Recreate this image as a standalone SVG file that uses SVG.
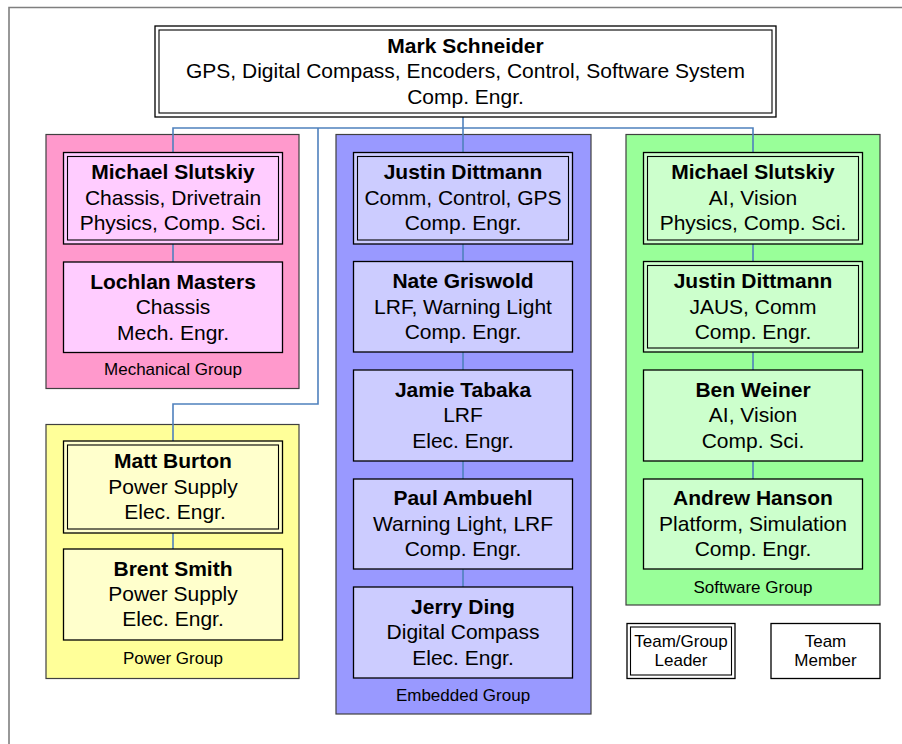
<svg xmlns="http://www.w3.org/2000/svg" width="902" height="744" viewBox="0 0 902 744">
  <style>
    text { font-family: "Liberation Sans", Arial, sans-serif; fill: #000; text-anchor: middle; }
    .name { font-size: 21px; font-weight: bold; }
    .line { font-size: 21px; }
    .glabel { font-size: 17px; }
    .legend { font-size: 17px; }
    .frame { fill: none; stroke: #7f7f7f; stroke-width: 1.6; }
    .group { stroke: #404040; stroke-width: 1.2; }
    .box { stroke: #000; stroke-width: 1.3; }
    .inner { fill: none; stroke: #000; stroke-width: 1.1; }
    .conn { fill: none; stroke: #4f81bd; stroke-width: 1.6; }
    .mech-g { fill: #ff99cc; } .mech-n { fill: #ffccff; }
    .emb-g { fill: #9999ff; } .emb-n { fill: #ccccff; }
    .soft-g { fill: #99ff99; } .soft-n { fill: #ccffcc; }
    .pow-g { fill: #ffff99; } .pow-n { fill: #ffffcc; }
    .plain { fill: #ffffff; }
  </style>

  <!-- page frame -->
  <path class="frame" d="M9,744 V7.5 H902"/>

  <!-- group backgrounds -->
  <g id="mechanical-group">
    <rect class="group mech-g" x="46" y="134.5" width="253" height="254"/>
    <text class="glabel" x="173" y="375">Mechanical Group</text>
  </g>
  <g id="embedded-group">
    <rect class="group emb-g" x="336" y="134.5" width="255" height="579.5"/>
    <text class="glabel" x="463" y="700.5">Embedded Group</text>
  </g>
  <g id="software-group">
    <rect class="group soft-g" x="626" y="134.5" width="254" height="470.5"/>
    <text class="glabel" x="753" y="592.5">Software Group</text>
  </g>
  <g id="power-group">
    <rect class="group pow-g" x="46" y="424.5" width="253" height="254"/>
    <text class="glabel" x="173" y="664">Power Group</text>
  </g>

  <!-- connectors -->
  <g id="connectors">
    <path class="conn" d="M463,117 V128"/>
    <path class="conn" d="M173,152 V128 H753 V152"/>
    <path class="conn" d="M463,128 V152"/>
    <path class="conn" d="M318,128 V404 H173 V441"/>
    <path class="conn" d="M173,244 V262"/>
    <path class="conn" d="M173,533 V549"/>
    <path class="conn" d="M463,244 V261"/>
    <path class="conn" d="M463,352 V370"/>
    <path class="conn" d="M463,461 V479"/>
    <path class="conn" d="M463,569 V587"/>
    <path class="conn" d="M753,244 V261"/>
    <path class="conn" d="M753,352 V370"/>
    <path class="conn" d="M753,461 V479"/>
  </g>

  <!-- top lead -->
  <g id="mark-schneider">
    <rect class="box plain" x="155" y="26" width="621" height="91"/>
    <rect class="inner" x="159" y="30" width="613" height="83"/>
    <text class="name" x="465.5" y="52.5">Mark Schneider</text>
    <text class="line" x="465.5" y="78">GPS, Digital Compass, Encoders, Control, Software System</text>
    <text class="line" x="465.5" y="103.5">Comp. Engr.</text>
  </g>

  <!-- mechanical -->
  <g id="mech-michael-slutskiy">
    <rect class="box mech-n" x="63.5" y="152.5" width="219" height="91.5"/>
    <rect class="inner" x="67.5" y="156.5" width="211" height="83.5"/>
    <text class="name" x="173" y="178.5">Michael Slutskiy</text>
    <text class="line" x="173" y="204.5">Chassis, Drivetrain</text>
    <text class="line" x="173" y="230">Physics, Comp. Sci.</text>
  </g>
  <g id="mech-lochlan-masters">
    <rect class="box mech-n" x="63.5" y="262" width="219" height="90.5"/>
    <text class="name" x="173" y="288.5">Lochlan Masters</text>
    <text class="line" x="173" y="314">Chassis</text>
    <text class="line" x="173" y="339.5">Mech. Engr.</text>
  </g>

  <!-- power -->
  <g id="power-matt-burton">
    <rect class="box pow-n" x="63.5" y="441" width="219" height="92"/>
    <rect class="inner" x="67.5" y="445" width="211" height="84"/>
    <text class="name" x="173" y="468">Matt Burton</text>
    <text class="line" x="173" y="493.5">Power Supply</text>
    <text class="line" x="175" y="518.5">Elec. Engr.</text>
  </g>
  <g id="power-brent-smith">
    <rect class="box pow-n" x="63.5" y="549" width="219" height="91"/>
    <text class="name" x="173" y="575.5">Brent Smith</text>
    <text class="line" x="173" y="600.5">Power Supply</text>
    <text class="line" x="173" y="625.5">Elec. Engr.</text>
  </g>

  <!-- embedded -->
  <g id="emb-justin-dittmann">
    <rect class="box emb-n" x="353.5" y="152.5" width="219" height="91.5"/>
    <rect class="inner" x="357.5" y="156.5" width="211" height="83.5"/>
    <text class="name" x="463" y="178.5">Justin Dittmann</text>
    <text class="line" x="463" y="204.5">Comm, Control, GPS</text>
    <text class="line" x="463" y="230">Comp. Engr.</text>
  </g>
  <g id="emb-nate-griswold">
    <rect class="box emb-n" x="353.5" y="261.5" width="219" height="90.5"/>
    <text class="name" x="463" y="288">Nate Griswold</text>
    <text class="line" x="463" y="313.5">LRF, Warning Light</text>
    <text class="line" x="463" y="339">Comp. Engr.</text>
  </g>
  <g id="emb-jamie-tabaka">
    <rect class="box emb-n" x="353.5" y="370" width="219" height="91"/>
    <text class="name" x="463" y="396.5">Jamie Tabaka</text>
    <text class="line" x="463" y="422">LRF</text>
    <text class="line" x="463" y="447.5">Elec. Engr.</text>
  </g>
  <g id="emb-paul-ambuehl">
    <rect class="box emb-n" x="353.5" y="479" width="219" height="90"/>
    <text class="name" x="463" y="505">Paul Ambuehl</text>
    <text class="line" x="463" y="530.5">Warning Light, LRF</text>
    <text class="line" x="463" y="556">Comp. Engr.</text>
  </g>
  <g id="emb-jerry-ding">
    <rect class="box emb-n" x="353.5" y="587" width="219" height="91"/>
    <text class="name" x="463" y="613.5">Jerry Ding</text>
    <text class="line" x="463" y="639">Digital Compass</text>
    <text class="line" x="463" y="664.5">Elec. Engr.</text>
  </g>

  <!-- software -->
  <g id="soft-michael-slutskiy">
    <rect class="box soft-n" x="643.5" y="152.5" width="219" height="91.5"/>
    <rect class="inner" x="647.5" y="156.5" width="211" height="83.5"/>
    <text class="name" x="753" y="178.5">Michael Slutskiy</text>
    <text class="line" x="753" y="204.5">AI, Vision</text>
    <text class="line" x="753" y="230">Physics, Comp. Sci.</text>
  </g>
  <g id="soft-justin-dittmann">
    <rect class="box soft-n" x="643.5" y="261.5" width="219" height="90.5"/>
    <rect class="inner" x="647.5" y="265.5" width="211" height="82.5"/>
    <text class="name" x="753" y="288">Justin Dittmann</text>
    <text class="line" x="753" y="313.5">JAUS, Comm</text>
    <text class="line" x="753" y="339">Comp. Engr.</text>
  </g>
  <g id="soft-ben-weiner">
    <rect class="box soft-n" x="643.5" y="370" width="219" height="91"/>
    <text class="name" x="753" y="396.5">Ben Weiner</text>
    <text class="line" x="753" y="422">AI, Vision</text>
    <text class="line" x="753" y="447.5">Comp. Sci.</text>
  </g>
  <g id="soft-andrew-hanson">
    <rect class="box soft-n" x="643.5" y="479" width="219" height="90"/>
    <text class="name" x="753" y="505">Andrew Hanson</text>
    <text class="line" x="753" y="530.5">Platform, Simulation</text>
    <text class="line" x="753" y="556">Comp. Engr.</text>
  </g>

  <!-- legend -->
  <g id="legend-leader">
    <rect class="box plain" x="627" y="623.5" width="108" height="55"/>
    <rect class="inner" x="630.5" y="627" width="101" height="48"/>
    <text class="legend" x="681" y="646.5">Team/Group</text>
    <text class="legend" x="681" y="666">Leader</text>
  </g>
  <g id="legend-member">
    <rect class="box plain" x="771" y="623.5" width="109" height="55"/>
    <text class="legend" x="825.5" y="646.5">Team</text>
    <text class="legend" x="825.5" y="666">Member</text>
  </g>
</svg>
